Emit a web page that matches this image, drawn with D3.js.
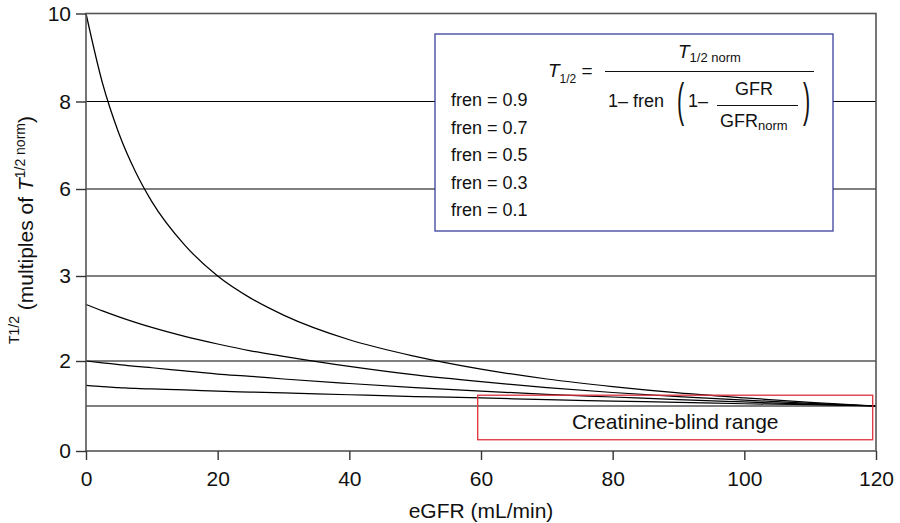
<!DOCTYPE html>
<html><head><meta charset="utf-8">
<script src="https://cdn.jsdelivr.net/npm/d3@7"></script>
<style>
body{margin:0;background:#fff;}
svg{display:block;font-family:"Liberation Sans",Arial,Helvetica,sans-serif;}
</style></head><body>
<svg id="chart" width="900" height="523"></svg>
<script>
// ---- data ----
const gfr    = [0, 2.5, 5, 7.5, 10, 15, 20, 25, 30, 40, 50, 60, 70, 80, 90, 100, 110, 120];
const fren09 = [10, 8.42, 7.27, 6.40, 5.71, 4.71, 4.00, 3.48, 3.08, 2.50, 2.11, 1.82, 1.60, 1.43, 1.29, 1.18, 1.08, 1.00];
const fren07 = [3.33, 3.18, 3.04, 2.91, 2.79, 2.58, 2.40, 2.24, 2.11, 1.88, 1.69, 1.54, 1.41, 1.30, 1.21, 1.13, 1.06, 1.00];
const fren05 = [2.00, 1.96, 1.92, 1.88, 1.85, 1.78, 1.71, 1.66, 1.60, 1.50, 1.41, 1.33, 1.26, 1.20, 1.14, 1.09, 1.04, 1.00];
const fren03 = [1.46, 1.43, 1.41, 1.39, 1.38, 1.36, 1.33, 1.31, 1.29, 1.25, 1.21, 1.18, 1.14, 1.11, 1.08, 1.05, 1.03, 1.00];
const normGfr  = [0, 120];
const normLine = [1, 1];
const seriesList = [fren09, fren07, fren05, fren03];
const xTicks = [0, 20, 40, 60, 80, 100, 120];
const yTicks = [0, 2, 4, 6, 8, 10];
const yTickLabels = ["0", "2", "3", "6", "8", "10"];
const frenLabels = ["fren = 0.9", "fren = 0.7", "fren = 0.5", "fren = 0.3", "fren = 0.1"];
const blindX = [59.5, 119.5];
const blindY = [0.25, 1.24];
const blindLabel = "Creatinine-blind range";

// ---- scales ----
const svg = d3.select("#chart");
const x = d3.scaleLinear().domain([0, 120]).range([86, 876]);
const y = d3.scaleLinear().domain([0, 2, 4, 6, 8, 10]).range([451, 361, 276, 189, 101.5, 13.5]);

// gridlines
svg.append("g").selectAll("line").data(yTicks.filter(d => d > 0 && d < 10)).join("line")
  .attr("x1", x(0)).attr("x2", x(120))
  .attr("y1", d => y(d)).attr("y2", d => y(d))
  .attr("stroke", "#000").attr("stroke-width", 1.1);

// reference line at 1
const line = d3.line().x(d => x(d[0])).y(d => y(d[1]));
svg.append("path").attr("d", line(normGfr.map((g, i) => [g, normLine[i]])))
  .attr("fill", "none").attr("stroke", "#000").attr("stroke-width", 1.2);

// curves
const curveLine = d3.line().x(d => x(d[0])).y(d => y(d[1])).curve(d3.curveMonotoneX);
svg.append("g").selectAll("path").data(seriesList).join("path")
  .attr("d", s => curveLine(gfr.map((g, i) => [g, s[i]])))
  .attr("fill", "none").attr("stroke", "#000").attr("stroke-width", 1.25);

// frame
svg.append("rect").attr("x", x(0)).attr("y", y(10))
  .attr("width", x(120) - x(0)).attr("height", y(0) - y(10))
  .attr("fill", "none").attr("stroke", "#555").attr("stroke-width", 1.6);

// axes
const yAxis = d3.axisLeft(y).tickValues(yTicks).tickFormat((d, i) => yTickLabels[i]).tickSize(10).tickPadding(5);
const gy = svg.append("g").attr("transform", `translate(${x(0)},0)`).call(yAxis);
const xAxis = d3.axisBottom(x).tickValues(xTicks).tickSize(9).tickPadding(11);
const gx = svg.append("g").attr("transform", `translate(0,${y(0)})`).call(xAxis);
[gx, gy].forEach(g => {
  g.select(".domain").remove();
  g.selectAll(".tick line").attr("stroke", "#333").attr("stroke-width", 1.4);
  g.selectAll(".tick text").attr("fill", "#111").style("font-size", "21px")
    .style("font-family", '"Liberation Sans",Arial,sans-serif');
});

// axis titles
svg.append("text").attr("x", (x(0) + x(120)) / 2).attr("y", 518)
  .attr("text-anchor", "middle").attr("fill", "#111").style("font-size", "21px")
  .text("eGFR (mL/min)");

const yl = svg.append("text").attr("transform", "translate(33,344) rotate(-90)")
  .attr("text-anchor", "start").attr("fill", "#111").style("font-size", "21px");
yl.append("tspan").style("font-size", "14px").attr("dy", -14).text("T1/2");
yl.append("tspan").attr("dy", 14).text(" (multiples of ");
yl.append("tspan").style("font-style", "italic").text("T");
yl.append("tspan").style("font-size", "14px").attr("dy", -8).text("1/2 norm");
yl.append("tspan").attr("dy", 8).text(")");

// creatinine-blind range box
svg.append("rect").attr("x", x(blindX[0])).attr("y", y(blindY[1]))
  .attr("width", x(blindX[1]) - x(blindX[0])).attr("height", y(blindY[0]) - y(blindY[1]))
  .attr("fill", "none").attr("stroke", "#e0303c").attr("stroke-width", 1.3);
svg.append("text").attr("x", (x(blindX[0]) + x(blindX[1])) / 2).attr("y", 429)
  .attr("text-anchor", "middle").attr("fill", "#111").style("font-size", "21px").text(blindLabel);

// formula / legend box
const bx = svg.append("g");
bx.append("rect").attr("x", 435).attr("y", 34).attr("width", 398).attr("height", 197)
  .attr("fill", "#fff").attr("stroke", "#3a3f9c").attr("stroke-width", 1.3);
bx.selectAll("text.fl").data(frenLabels).join("text").attr("class", "fl")
  .attr("x", 451).attr("y", (d, i) => 106 + i * 27.6)
  .attr("fill", "#111").style("font-size", "18px").text(d => d);

const t1 = bx.append("text").attr("x", 548).attr("y", 77).attr("fill", "#111").style("font-size", "19px");
t1.append("tspan").style("font-style", "italic").text("T");
t1.append("tspan").style("font-size", "12px").attr("dy", 6).text("1/2");
t1.append("tspan").attr("dy", -6).text(" =");

bx.append("line").attr("x1", 605).attr("x2", 814).attr("y1", 71.5).attr("y2", 71.5)
  .attr("stroke", "#111").attr("stroke-width", 1.2);
const num = bx.append("text").attr("x", 678).attr("y", 58).attr("fill", "#111").style("font-size", "19px");
num.append("tspan").style("font-style", "italic").text("T");
num.append("tspan").style("font-size", "13px").attr("dy", 4).text("1/2 norm");

bx.append("text").attr("x", 608).attr("y", 106.5).attr("fill", "#111").style("font-size", "18px").text("1– fren");
bx.append("text").attr("transform", "translate(677,104.5) scale(1.2,2.6)").attr("y", 4.6)
  .attr("fill", "#111").style("font-size", "18px").text("(");
bx.append("text").attr("x", 688).attr("y", 106.5).attr("fill", "#111").style("font-size", "18px").text("1–");
bx.append("text").attr("x", 735).attr("y", 95).attr("fill", "#111").style("font-size", "18px").text("GFR");
bx.append("line").attr("x1", 717).attr("x2", 798).attr("y1", 105.5).attr("y2", 105.5)
  .attr("stroke", "#111").attr("stroke-width", 1.2);
const den = bx.append("text").attr("x", 720).attr("y", 127).attr("fill", "#111").style("font-size", "18px");
den.append("tspan").text("GFR");
den.append("tspan").style("font-size", "13px").attr("dy", 3).text("norm");
bx.append("text").attr("transform", "translate(803,104.5) scale(1.2,2.6)").attr("y", 4.6)
  .attr("fill", "#111").style("font-size", "18px").text(")");
</script>
</body></html>
